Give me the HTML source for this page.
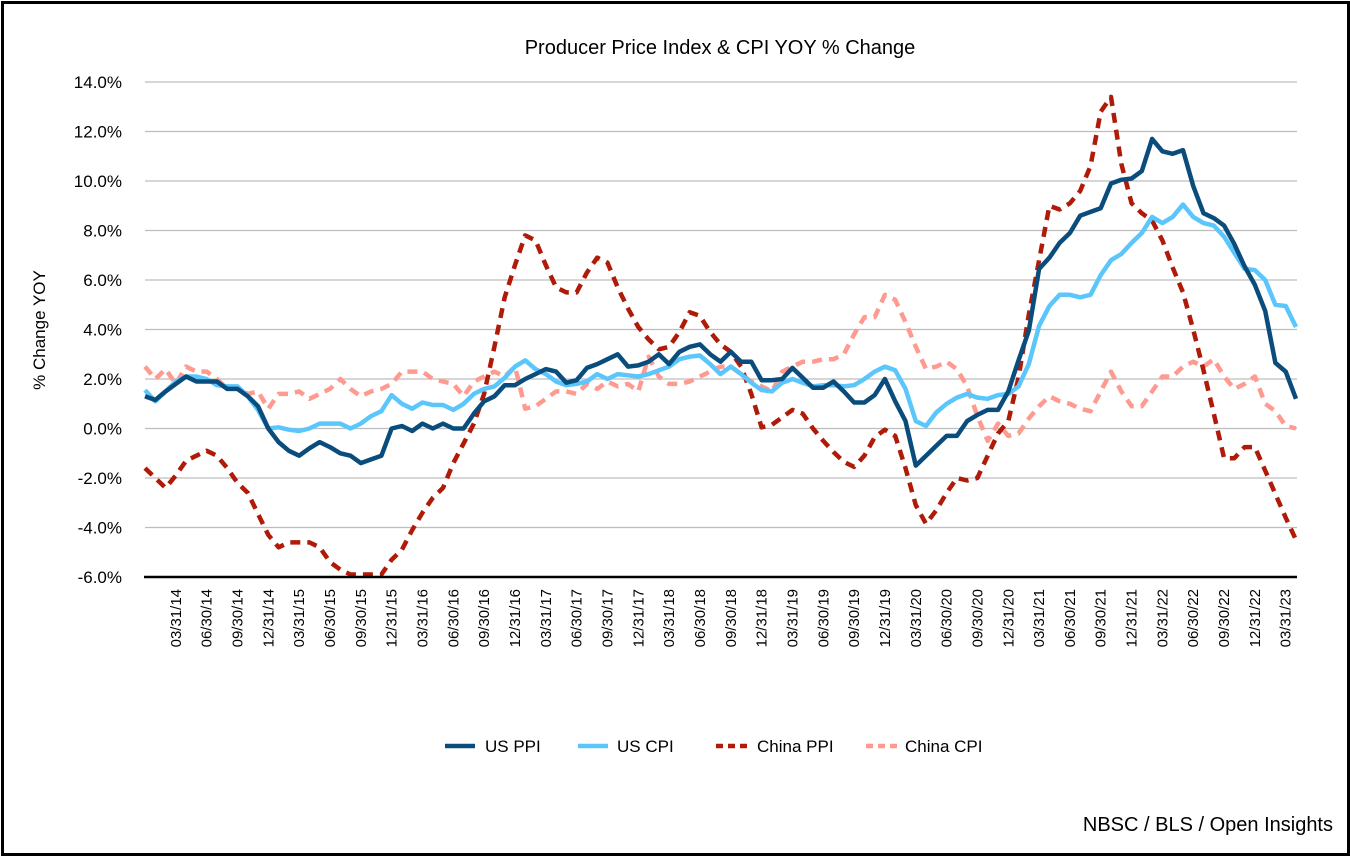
<!DOCTYPE html>
<html><head><meta charset="utf-8">
<style>
html,body{margin:0;padding:0;background:#fff;}
body{width:1350px;height:856px;overflow:hidden;font-family:"Liberation Sans",Arial,sans-serif;}
#frame{position:absolute;left:1px;top:1px;width:1343px;height:849px;border:3px solid #000;}
</style></head>
<body>
<div id="frame"></div>
<svg id="chart" width="1350" height="856" style="position:absolute;left:0;top:0" font-family="Liberation Sans, Arial, sans-serif">
<text x="720" y="54" font-size="20" text-anchor="middle" fill="#000">Producer Price Index &amp; CPI YOY % Change</text>
<text transform="translate(45,330) rotate(-90)" font-size="17" text-anchor="middle" fill="#000">% Change YOY</text>
<g id="grid"></g>
<g id="yticks"></g>
<g id="xticks"></g>
<g id="series"></g>
<line x1="144" y1="577" x2="1297" y2="577" stroke="#000" stroke-width="2.5"/>
<g font-size="17" fill="#000">
<g><line x1="445" y1="746" x2="475" y2="746" stroke="#0a4d7c" stroke-width="4.5"/><text x="485" y="752">US PPI</text></g>
<g><line x1="578" y1="746" x2="608" y2="746" stroke="#5bc6fb" stroke-width="4.5"/><text x="617" y="752">US CPI</text></g>
<g><line x1="716" y1="746" x2="748" y2="746" stroke="#b01a08" stroke-width="4.5" stroke-dasharray="7,5"/><text x="757" y="752">China PPI</text></g>
<g><line x1="866" y1="746" x2="898" y2="746" stroke="#ff9a90" stroke-width="4.5" stroke-dasharray="7,5"/><text x="905" y="752">China CPI</text></g>
</g>
<text x="1333" y="831" font-size="20" text-anchor="end" fill="#000">NBSC / BLS / Open Insights</text>
</svg>
<script>
const yTicks=[14,12,10,8,6,4,2,0,-2,-4,-6];
const xTickLabels=["03/31/14","06/30/14","09/30/14","12/31/14","03/31/15","06/30/15","09/30/15","12/31/15","03/31/16","06/30/16","09/30/16","12/31/16","03/31/17","06/30/17","09/30/17","12/31/17","03/31/18","06/30/18","09/30/18","12/31/18","03/31/19","06/30/19","09/30/19","12/31/19","03/31/20","06/30/20","09/30/20","12/31/20","03/31/21","06/30/21","09/30/21","12/31/21","03/31/22","06/30/22","09/30/22","12/31/22","03/31/23"];
const usPPI=[1.3,1.15,1.5,1.8,2.1,1.9,1.9,1.9,1.6,1.6,1.3,0.9,
0.0,-0.55,-0.9,-1.1,-0.8,-0.55,-0.75,-1.0,-1.1,-1.4,-1.25,-1.1,
0.0,0.1,-0.1,0.2,0.0,0.2,0.0,0.0,0.6,1.1,1.3,1.75,
1.75,2.0,2.2,2.4,
2.3,1.85,1.95,2.45,2.6,2.8,3.0,2.5,2.55,
2.7,3.0,2.6,3.1,3.3,3.4,3.0,2.7,3.1,2.7,2.7,1.95,
1.95,2.0,2.45,2.05,1.65,1.65,1.9,1.5,1.05,1.05,1.35,2.0,
1.1,0.3,-1.5,
-1.1,-0.7,-0.3,-0.3,0.3,0.55,0.75,0.75,1.5,
2.75,3.95,6.45,6.9,7.5,7.9,8.6,8.75,8.9,9.9,10.05,10.1,
10.4,11.7,11.2,11.1,11.25,9.8,8.7,8.5,8.2,7.45,6.55,5.8,
4.75,2.65,2.3,1.2];
const usCPI=[1.55,1.1,1.5,1.9,2.1,2.1,2.0,1.75,1.7,1.7,1.3,0.75,
0.0,0.05,-0.05,-0.1,0.0,0.2,0.2,0.2,0.0,0.2,0.5,0.7,
1.35,1.0,0.8,1.05,0.95,0.95,0.75,1.0,1.4,1.6,1.7,2.05,
2.5,2.75,2.4,2.2,
1.9,1.75,1.8,1.9,2.2,2.0,2.2,2.15,2.1,
2.2,2.35,2.5,2.8,2.9,2.95,2.6,2.2,2.5,2.2,1.85,1.55,
1.5,1.85,2.0,1.85,1.7,1.75,1.75,1.7,1.75,2.0,2.3,2.5,
2.35,1.6,0.3,
0.1,0.65,1.0,1.25,1.4,1.25,1.2,1.35,1.4,
1.7,2.6,4.15,4.95,5.4,5.4,5.3,5.4,6.2,6.8,7.05,7.5,
7.9,8.55,8.3,8.55,9.05,8.55,8.3,8.2,7.75,7.1,6.45,6.4,
6.0,5.0,4.95,4.1];
const chinaPPI=[-1.6,-2.0,-2.4,-1.9,-1.3,-1.1,-0.9,-1.1,-1.6,-2.2,-2.6,-3.45,
-4.3,-4.8,-4.6,-4.6,-4.6,-4.8,-5.4,-5.7,-5.9,-5.9,-5.9,-5.9,
-5.3,-4.9,-4.1,-3.4,-2.8,-2.4,-1.4,-0.6,0.2,1.4,3.3,5.3,
6.6,7.8,7.6,
6.6,5.7,5.5,5.5,6.3,6.9,6.7,5.7,4.85,4.1,
3.6,3.2,3.3,3.9,4.7,4.55,3.9,3.4,3.1,2.5,1.4,0.05,
0.15,0.45,0.75,0.6,0.0,-0.5,-0.95,-1.35,-1.55,-1.1,-0.35,-0.05,
-0.3,-1.6,-3.1,-3.85,-3.3,-2.6,-2.0,-2.1,-2.0,-1.1,-0.2,0.3,
2.05,4.6,6.8,9.0,8.85,9.1,9.6,10.6,12.8,13.4,10.7,9.1,
8.7,8.4,7.6,6.5,5.5,4.0,2.35,0.6,-1.2,-1.2,-0.75,-0.75,
-1.7,-2.65,-3.6,-4.5];
const chinaCPI=[2.5,2.0,2.4,1.8,2.5,2.3,2.3,2.0,1.6,1.6,1.4,1.5,
0.8,1.4,1.4,1.5,1.2,1.4,1.6,2.0,1.6,1.3,1.5,1.6,
1.8,2.3,2.3,2.3,2.0,1.9,1.8,1.3,1.9,2.1,2.3,2.1,
2.5,0.8,0.9,1.2,1.5,1.5,1.4,1.8,1.6,1.9,1.7,1.8,
1.5,2.9,2.1,1.8,1.8,1.9,2.1,2.3,2.5,2.5,2.2,1.9,
1.7,1.5,2.3,2.5,2.7,2.7,2.8,2.8,3.0,3.8,4.5,4.5,
5.4,5.2,4.3,3.3,2.4,2.5,2.7,2.4,1.7,0.5,-0.5,0.2,
-0.3,-0.2,0.4,0.9,1.3,1.1,1.0,0.8,0.7,1.5,2.3,1.5,
0.9,0.9,1.5,2.1,2.1,2.5,2.7,2.5,2.8,2.1,1.6,1.8,
2.1,1.0,0.7,0.1,0.0];

const NS='http://www.w3.org/2000/svg';
const X0=145,X1=1296,Y0=577,Y1=82,VMIN=-6,VMAX=14;
const N=usPPI.length;
function xScale(i){return X0+(X1-X0)*i/(N-1);}
function yScale(v){return Y0-(v-VMIN)/(VMAX-VMIN)*(Y0-Y1);}

const grid=document.getElementById('grid');
const yt=document.getElementById('yticks');
yTicks.forEach(v=>{
  const l=document.createElementNS(NS,'line');
  
  
  l.setAttribute('x1',X0);l.setAttribute('x2',X1+1);
  l.setAttribute('y1',yScale(v));l.setAttribute('y2',yScale(v));
  l.setAttribute('stroke','#bdbdbd');l.setAttribute('stroke-width','1.2');
  grid.appendChild(l);
  const t=document.createElementNS(NS,'text');
  
  
  t.setAttribute('x',122);t.setAttribute('y',yScale(v)+6);
  t.setAttribute('text-anchor','end');t.setAttribute('font-size','17');
  t.textContent=v.toFixed(1)+'%';
  yt.appendChild(t);
});
const xt=document.getElementById('xticks');
xTickLabels.forEach((lab,k)=>{
  const i=3+3*k;
  const t=document.createElementNS(NS,'text');
  
  
  t.setAttribute('transform','translate('+(xScale(i)+5)+',589) rotate(-90)');
  t.setAttribute('text-anchor','end');t.setAttribute('font-size','15');
  t.textContent=lab;
  xt.appendChild(t);
});
const ser=document.getElementById('series');
function draw(arr,color,dash,name){
  const p=document.createElementNS(NS,'path');
  
  
  p.setAttribute('d',arr.map((v,i)=>(i?'L':'M')+xScale(i).toFixed(1)+','+yScale(v).toFixed(1)).join(''));
  p.setAttribute('fill','none');p.setAttribute('stroke',color);
  p.setAttribute('stroke-width','4.5');p.setAttribute('stroke-linejoin','round');
  if(dash)p.setAttribute('stroke-dasharray',dash);
  ser.appendChild(p);
}
draw(chinaCPI,'#ff9a90','10,7','china-cpi-line');
draw(chinaPPI,'#b01a08','10,7','china-ppi-line');
draw(usCPI,'#5bc6fb',null,'us-cpi-line');
draw(usPPI,'#0a4d7c',null,'us-ppi-line');
</script>
</body></html>
